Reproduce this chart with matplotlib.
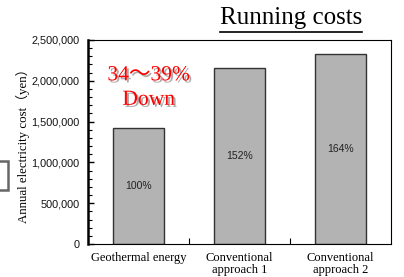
import matplotlib
matplotlib.use("Agg")
import matplotlib.pyplot as plt
import matplotlib.patheffects as pe
from matplotlib.patches import Rectangle
from matplotlib.ticker import MultipleLocator, FuncFormatter

categories = ["Geothermal energy", "Conventional\napproach 1", "Conventional\napproach 2"]
values = [1420000, 2160000, 2330000]
pct_labels = ["100%", "152%", "164%"]
title = "Running costs"
ylabel = "Annual electricity cost\uff08yen\uff09"
callout = ["34\uff5e39%", "Down"]

fig = plt.figure(figsize=(4.04, 2.77), dpi=100)
ax = fig.add_axes([0.218, 0.119, 0.750, 0.737])

x = list(range(len(categories)))
ax.bar(x, values, width=0.5, color="#b3b3b3", edgecolor="#333333", linewidth=1.0, zorder=2)
ax.set_xlim(-0.5, 2.5)
ax.set_ylim(0, 2500000)

for xi, v, lab in zip(x, values, pct_labels):
    ax.text(xi, v / 2, lab, ha="center", va="center", fontsize=7.5,
            family="Liberation Sans", color="#222222", zorder=3)

ax.yaxis.set_major_locator(MultipleLocator(500000))
ax.yaxis.set_minor_locator(MultipleLocator(100000))
ax.yaxis.set_major_formatter(FuncFormatter(lambda v, p: f"{int(v):,}"))
ax.tick_params(axis="y", which="major", direction="in", length=4, width=1, pad=6,
               labelsize=7.8, labelcolor="#111111")
ax.tick_params(axis="y", which="minor", direction="in", length=3, width=0.8)
for lab in ax.get_yticklabels():
    lab.set_family("Liberation Sans")

ax.set_xticks(x)
ax.set_xticklabels(categories, family="Liberation Serif", fontsize=9, linespacing=1.0)
ax.set_xticks([0.5, 1.5], minor=True)
ax.tick_params(axis="x", which="major", length=0, pad=6)
ax.tick_params(axis="x", which="minor", direction="in", length=4, width=0.8)

for s in ["top", "right", "bottom"]:
    ax.spines[s].set_linewidth(0.8)
ax.spines["left"].set_linewidth(1.8)

fig.text(0.057, 0.485, ylabel, rotation=90, ha="center", va="center",
         family=["Liberation Serif", "Noto Sans CJK JP"], fontsize=9.3)

# title with underline
t = fig.text(0.72, 0.895, title, ha="center", va="bottom", family="Liberation Serif", fontsize=18)
fig.canvas.draw()
bb = t.get_window_extent().transformed(fig.transFigure.inverted())
fig.add_artist(plt.Line2D([bb.x0, bb.x1], [0.883, 0.883], color="black", linewidth=1.2))

shadow = [pe.SimplePatchShadow(offset=(1.5, -1.5), shadow_rgbFace="#888888", alpha=0.7), pe.Normal()]
ax.text(0.1, 2060000, callout[0], ha="center", va="center", color="#ff0000", fontsize=15.5,
        family=["Liberation Serif", "Noto Sans CJK JP"], path_effects=shadow, zorder=4)
ax.text(0.1, 1760000, callout[1], ha="center", va="center", color="#ff0000", fontsize=15.5,
        family="Liberation Serif", path_effects=shadow, zorder=4)

# partial box at left edge
fig.add_artist(Rectangle((-0.05, 1 - 190 / 277), 0.07, 29 / 277, transform=fig.transFigure,
                         fill=False, edgecolor="#666666", linewidth=1.8))

fig.savefig("out.png", dpi=100)
